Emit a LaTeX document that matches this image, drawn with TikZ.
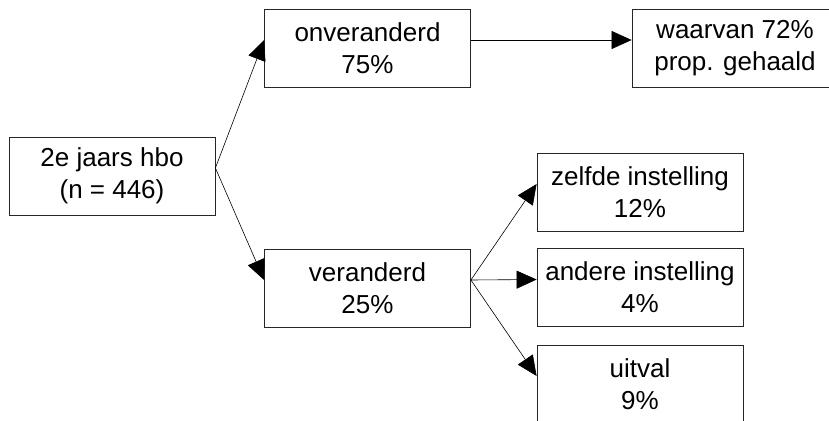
\documentclass[tikz,border=0pt]{standalone}
\usepackage{fontspec}
\setmainfont{Liberation Sans}
\usetikzlibrary{arrows.meta}

\begin{document}
\begin{tikzpicture}[
        x=1pt, y=-1pt,
        block/.style={rectangle, draw=black!85, line width=0.8pt,
                      minimum width=206pt, minimum height=78pt, inner sep=0pt,
                      align=center, font=\fontsize{26}{32}\selectfont},
        arrow/.style={-{Triangle[length=20pt, width=18pt]}, line width=0.6pt},
    ]
        \useasboundingbox (0,0) rectangle (829,420);

        \node[block] (start) at (112,176) {2e jaars hbo\\(n = 446)};
        \node[block] (onver) at (367.5,48) {onveranderd\\75\%};
        \node[block] (waarvan) at (735,48) {waarvan 72\%\\prop. gehaald};
        \node[block] (ver) at (367.5,288) {veranderd\\25\%};
        \node[block] (zelfde) at (640,192) {zelfde instelling\\12\%};
        \node[block] (andere) at (640,287.5) {andere instelling\\4\%};
        \node[block] (uitval) at (640,384) {uitval\\9\%};

        \draw[arrow] ([yshift=8pt]start.east) -- ([yshift=8pt]onver.west);
        \draw[arrow] ([yshift=8pt]start.east) -- ([yshift=8pt]ver.west);
        \draw[arrow] ([yshift=8pt]onver.east) -- ([yshift=8pt]waarvan.west);

        \draw[arrow] ([yshift=8pt]ver.east) -- ([yshift=8pt]zelfde.west);
        \draw[arrow] ([yshift=8pt]ver.east) -- ([yshift=8pt]andere.west);
        \draw[arrow] ([yshift=8pt]ver.east) -- ([yshift=8pt]uitval.west);

    \end{tikzpicture}
\end{document}
